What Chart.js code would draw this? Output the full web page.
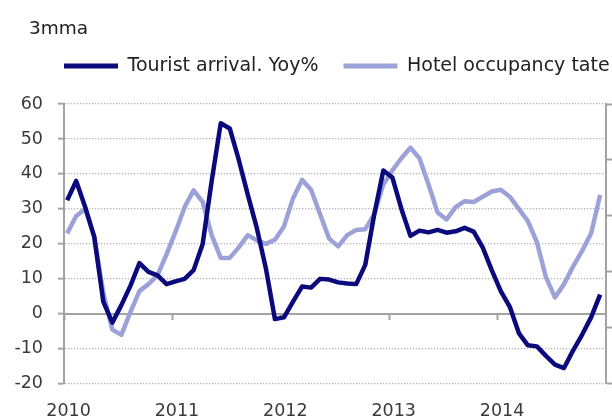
<!DOCTYPE html>
<html><head><meta charset="utf-8">
<style>html,body{margin:0;padding:0;background:#fff;}#c{display:block;}</style>
<script src="https://cdn.jsdelivr.net/npm/chart.js@4.4.1/dist/chart.umd.min.js"></script>
</head><body>
<canvas id="c" width="612" height="419"></canvas>
<script>
// ---- data ----
const yearLabels = ['2010', '2011', '2012', '2013', '2014'];
const monthNames = ['Jan','Feb','Mar','Apr','May','Jun','Jul','Aug','Sep','Oct','Nov','Dec'];
const months = [];
yearLabels.forEach(y => monthNames.forEach(m => months.push(m + ' ' + y)));

const touristArrivals = [
  32.5, 38, 30.5, 22, 3.5, -2.5, 2.5, 8, 14.5, 12, 11, 8.5,
  9.3, 10, 12.5, 20, 38, 54.5, 53, 44, 34, 24.5, 13, -1.5,
  -1, 3.5, 7.8, 7.5, 10, 9.8, 9, 8.7, 8.5, 14, 28.5, 41,
  39, 30, 22.3, 23.8, 23.3, 24, 23.2, 23.6, 24.6, 23.5, 19, 12.5,
  6.5, 2, -5.5, -9, -9.3, -12, -14.5, -15.5, -10.5, -6, -1, 5.5
];
const hotelOccupancy = [
  23, 28, 30, 22, 6, -4.5, -6, 0.5, 6.5, 8.5, 11, 17,
  23.5, 30.5, 35.3, 32, 22.5, 16, 16, 19, 22.5, 21, 20, 21.2,
  25, 33, 38.3, 35.5, 28.5, 21.5, 19.3, 22.5, 24, 24.2, 28.5, 37,
  41, 44.5, 47.5, 44.5, 37, 29, 27, 30.5, 32.2, 32, 33.5, 35,
  35.5, 33.5, 30, 26.5, 20.5, 10.5, 4.7, 8.5, 13.5, 18, 23, 34
];
const yTicks = [-20, -10, 0, 10, 20, 30, 40, 50, 60];

// ---- style ----
const FONT = 'DejaVu Sans';
const AXIS_GRAY = '#a3a3a3';
const X_MIN = -0.35, X_MAX = 59.65;

const boxShift = {
  id: 'boxShift',
  afterLayout(chart) {
    const lg = chart.legend;
    if (lg) { lg.left += 29; lg.right += 29; lg.top -= 18.5; lg.bottom -= 18.5; }
    const tb = chart.titleBlock;
    if (tb) { tb.left += 19; tb.right += 19; }
  }
};

new Chart(document.getElementById('c'), {
  type: 'line',
  data: {
    labels: months,
    datasets: [
      {
        label: 'Tourist arrival. Yoy%',
        data: touristArrivals.map((v, i) => ({x: i, y: v})),
        borderColor: '#0a0a7c',
        backgroundColor: '#0a0a7c',
        borderWidth: 4.5,
        pointRadius: 0,
        tension: 0,
        borderJoinStyle: 'round',
        xAxisID: 'x', yAxisID: 'y'
      },
      {
        label: 'Hotel occupancy tate',
        data: hotelOccupancy.map((v, i) => ({x: i, y: v})),
        borderColor: '#9ca2d7',
        backgroundColor: '#9ca2d7',
        borderWidth: 4.5,
        pointRadius: 0,
        tension: 0,
        borderJoinStyle: 'round',
        xAxisID: 'x', yAxisID: 'y'
      }
    ]
  },
  options: {
    responsive: false,
    animation: false,
    devicePixelRatio: 1,
    layout: { padding: { left: 10, right: 0, top: 0, bottom: -21 } },
    plugins: {
      tooltip: { enabled: false },
      title: {
        display: true,
        text: '3mma',
        align: 'start',
        color: '#222',
        font: { family: FONT, size: 18.5, weight: 'normal' },
        padding: { top: 18, bottom: 9.8 }
      },
      legend: {
        display: true,
        position: 'top',
        align: 'start',
        labels: {
          color: '#222',
          font: { family: FONT, size: 19 },
          boxWidth: 54,
          boxHeight: 5,
          padding: 25,
          generateLabels: (chart) =>
            Chart.defaults.plugins.legend.labels.generateLabels(chart)
              .map(l => Object.assign(l, { fillStyle: l.strokeStyle, lineWidth: 0 }))
        }
      }
    },
    scales: {
      x: {
        type: 'linear',
        position: 'bottom',
        min: X_MIN, max: X_MAX,
        grid: { display: false, drawTicks: false },
        border: { display: false },
        afterBuildTicks: (s) => { s.ticks = yearLabels.map((_, k) => ({ value: k * 12 + 0.15 })); },
        ticks: {
          autoSkip: false, maxRotation: 0,
          padding: 17.6,
          color: '#3a3a3a',
          font: { family: FONT, size: 17.5 },
          callback: (v, i) => yearLabels[i]
        }
      },
      x0: {
        type: 'linear',
        axis: 'x',
        position: { y: 0 },
        min: X_MIN, max: X_MAX,
        afterBuildTicks: (s) => { s.ticks = yearLabels.map((_, k) => ({ value: k * 12 + X_MIN })); },
        grid: { drawOnChartArea: false, drawTicks: true, tickLength: 5, tickColor: AXIS_GRAY, tickWidth: 2 },
        border: { display: true, color: AXIS_GRAY, width: 2 },
        ticks: { display: false }
      },
      y: {
        type: 'linear',
        position: 'left',
        min: -20, max: 60,
        afterBuildTicks: (s) => { s.ticks = yTicks.map(v => ({ value: v })); },
        afterFit: (s) => { s.width = 54; },
        grid: {
          color: '#b3b3b3', lineWidth: 1.3,
          drawTicks: true, tickLength: 6, tickColor: AXIS_GRAY, tickWidth: 2, tickBorderDash: []
        },
        border: { display: true, color: AXIS_GRAY, width: 2, dash: [1.3, 1.7] },
        ticks: {
          padding: 15,
          color: '#3a3a3a',
          font: { family: FONT, size: 17.5 }
        }
      },
      y2: {
        type: 'linear',
        position: 'right',
        min: 0, max: 5,
        ticks: { display: false, stepSize: 1 },
        grid: { drawOnChartArea: false, drawTicks: true, tickLength: 6, tickColor: AXIS_GRAY, tickWidth: 2 },
        border: { display: true, color: AXIS_GRAY, width: 2 }
      }
    }
  },
  plugins: [boxShift]
});
</script>
</body></html>
